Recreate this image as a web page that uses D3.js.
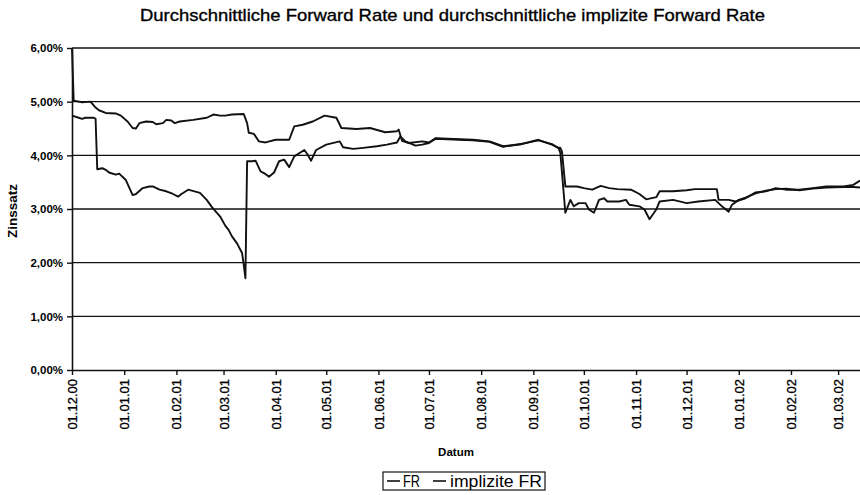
<!DOCTYPE html>
<html>
<head>
<meta charset="UTF-8" />
<title>Forward Rate</title>
<style>
    body { margin: 0; padding: 0; background: #fff; }
    svg { font-family: "Liberation Sans", Arial, sans-serif; }
    .grid line { stroke: #111; stroke-width: 1.4px; }
    .series { fill: none; stroke: #111; stroke-width: 1.9px; stroke-linejoin: round; }
</style>
</head>
<body>
<svg width="860" height="495"></svg>
<script src="https://cdn.jsdelivr.net/npm/d3@7/dist/d3.min.js"></script>
<script>
    // Durchschnittliche Forward Rate (in %)
    const frDates = ["01.12.00","02.12.00","07.12.00","12.12.00","15.12.00","17.12.00","21.12.00","27.12.00","30.12.00",
        "03.01.01","06.01.01","08.01.01","10.01.01","14.01.01","18.01.01","20.01.01","24.01.01","26.01.01","29.01.01","31.01.01",
        "03.02.01","11.02.01","19.02.01","23.02.01","27.02.01","02.03.01","06.03.01","13.03.01","15.03.01","16.03.01","19.03.01",
        "22.03.01","26.03.01","01.04.01","09.04.01","12.04.01","17.04.01","23.04.01","30.04.01","07.05.01","10.05.01","19.05.01",
        "27.05.01","05.06.01","12.06.01","13.06.01","15.06.01","19.06.01","27.06.01","01.07.01","05.07.01","19.07.01","27.07.01",
        "06.08.01","14.08.01","24.08.01","04.09.01","12.09.01","16.09.01","17.09.01","18.09.01","20.09.01","27.09.01","01.10.01",
        "06.10.01","11.10.01","16.10.01","21.10.01","29.10.01","03.11.01","07.11.01","13.11.01","15.11.01","23.11.01","01.12.01",
        "06.12.01","19.12.01","20.12.01","26.12.01","30.12.01","05.01.02","11.01.02","17.01.02","23.01.02","29.01.02","06.02.02",
        "14.02.02","22.02.02","04.03.02","10.03.02","14.03.02"];
    const frValues = [6.00,5.02,4.99,5.00,4.89,4.84,4.79,4.78,4.74,
        4.63,4.51,4.50,4.60,4.63,4.62,4.58,4.60,4.66,4.65,4.60,
        4.63,4.66,4.70,4.76,4.74,4.74,4.76,4.77,4.60,4.42,4.40,
        4.26,4.24,4.29,4.29,4.54,4.57,4.63,4.74,4.70,4.51,4.49,
        4.51,4.43,4.45,4.48,4.27,4.23,4.26,4.24,4.32,4.30,4.29,
        4.26,4.17,4.20,4.29,4.20,4.14,4.14,4.07,3.42,3.42,3.39,
        3.36,3.43,3.39,3.37,3.36,3.28,3.18,3.22,3.33,3.33,3.35,
        3.37,3.37,3.17,3.17,3.14,3.20,3.31,3.33,3.39,3.36,3.36,
        3.39,3.42,3.42,3.45,3.53];

    // Durchschnittliche implizite Forward Rate (in %)
    const ifrDates = ["01.12.00","05.12.00","07.12.00","09.12.00","14.12.00","15.12.00","16.12.00","19.12.00","21.12.00",
        "23.12.00","27.12.00","29.12.00","02.01.01","06.01.01","08.01.01","12.01.01","16.01.01","18.01.01","22.01.01","26.01.01",
        "30.01.01","02.02.01","04.02.01","08.02.01","15.02.01","19.02.01","22.02.01","27.02.01","02.03.01","04.03.01","06.03.01",
        "09.03.01","12.03.01","13.03.01","14.03.01","15.03.01","18.03.01","20.03.01","23.03.01","25.03.01","28.03.01","31.03.01",
        "03.04.01","06.04.01","09.04.01","12.04.01","18.04.01","20.04.01","22.04.01","25.04.01","01.05.01","09.05.01","11.05.01",
        "17.05.01","23.05.01","31.05.01","06.06.01","12.06.01","14.06.01","17.06.01","23.06.01","27.06.01","01.07.01","05.07.01",
        "19.07.01","27.07.01","06.08.01","14.08.01","24.08.01","04.09.01","12.09.01","16.09.01","17.09.01","20.09.01","23.09.01",
        "25.09.01","28.09.01","02.10.01","04.10.01","07.10.01","10.10.01","13.10.01","15.10.01","22.10.01","26.10.01","28.10.01",
        "03.11.01","06.11.01","09.11.01","13.11.01","15.11.01","23.11.01","01.12.01","08.12.01","18.12.01","22.12.01","26.12.01",
        "28.12.01","01.01.02","05.01.02","11.01.02","17.01.02","23.01.02","29.01.02","06.02.02","14.02.02","22.02.02","04.03.02",
        "10.03.02","14.03.02"];
    const ifrValues = [4.74,4.70,4.68,4.70,4.70,4.68,3.74,3.76,3.73,
        3.68,3.64,3.66,3.54,3.26,3.28,3.39,3.42,3.42,3.36,3.33,
        3.28,3.23,3.28,3.36,3.30,3.17,3.04,2.86,2.69,2.61,2.49,
        2.36,2.18,1.96,1.71,3.89,3.89,3.90,3.70,3.67,3.60,3.68,
        3.89,3.92,3.78,3.98,4.10,4.01,3.90,4.10,4.20,4.26,4.15,
        4.12,4.14,4.17,4.20,4.24,4.35,4.26,4.18,4.20,4.23,4.31,
        4.29,4.28,4.25,4.16,4.21,4.28,4.21,4.13,4.05,2.93,3.17,
        3.05,3.11,3.11,2.99,2.93,3.17,3.20,3.14,3.14,3.17,3.08,
        3.05,2.99,2.81,2.99,3.14,3.17,3.11,3.14,3.17,3.05,2.95,
        3.08,3.17,3.21,3.29,3.34,3.37,3.38,3.35,3.38,3.40,3.41,
        3.41,3.40];

    const yTicks = [0, 1, 2, 3, 4, 5, 6];
    const xTickLabels = ["01.12.00","01.01.01","01.02.01","01.03.01","01.04.01","01.05.01","01.06.01","01.07.01",
        "01.08.01","01.09.01","01.10.01","01.11.01","01.12.01","01.01.02","01.02.02","01.03.02"];
    const seriesNames = ["FR", "implizite FR"];

    const parse = d3.timeParse("%d.%m.%y");
    const fr = frDates.map((d, i) => ({ date: parse(d), value: frValues[i] }));
    const ifr = ifrDates.map((d, i) => ({ date: parse(d), value: ifrValues[i] }));

    const svg = d3.select("svg");
    const margin = { left: 72, right: 0, top: 48, bottom: 125 };
    const width = 860, height = 495;

    const x = d3.scaleTime()
        .domain([parse("01.12.00"), parse("14.03.02")])
        .range([margin.left, width - margin.right]);
    const y = d3.scaleLinear()
        .domain([0, 6])
        .range([height - margin.bottom, margin.top]);

    // title
    svg.append("text")
        .attr("x", 140).attr("y", 21)
        .attr("textLength", 625).attr("lengthAdjust", "spacingAndGlyphs")
        .style("font-size", "17px").style("fill", "#000")
        .style("stroke", "#000").style("stroke-width", 0.35)
        .text("Durchschnittliche Forward Rate und durchschnittliche implizite Forward Rate");

    // horizontal gridlines
    svg.append("g").attr("class", "grid")
        .selectAll("line").data(yTicks.filter(t => t > 0)).enter().append("line")
        .attr("x1", margin.left).attr("x2", width - margin.right)
        .attr("y1", d => y(d)).attr("y2", d => y(d));

    // y axis
    const fmt = d => d3.format(".2f")(d).replace(".", ",") + "%";
    const yAxis = svg.append("g")
        .attr("transform", `translate(${margin.left},0)`)
        .call(d3.axisLeft(y).tickValues(yTicks).tickFormat(fmt).tickSize(5).tickSizeOuter(0));
    yAxis.select(".domain").attr("stroke", "#111").attr("stroke-width", 1.6);
    yAxis.selectAll(".tick line").attr("stroke", "#111").attr("stroke-width", 1.4);
    yAxis.selectAll("text")
        .attr("x", -9)
        .style("font-size", "11.5px").style("font-weight", "bold").style("fill", "#000");

    // x axis
    const xAxis = svg.append("g")
        .attr("transform", `translate(0,${y(0)})`)
        .call(d3.axisBottom(x).tickValues(xTickLabels.map(parse))
            .tickFormat(d3.timeFormat("%d.%m.%y")).tickSize(5).tickSizeOuter(0));
    xAxis.select(".domain").attr("stroke", "#111").attr("stroke-width", 1.6);
    xAxis.selectAll(".tick line").attr("stroke", "#111").attr("stroke-width", 1.4);
    xAxis.selectAll("text")
        .attr("transform", "rotate(-90)")
        .attr("x", -9).attr("y", 0).attr("dy", "0.35em")
        .attr("text-anchor", "end")
        .style("font-size", "13px").style("fill", "#000")
        .style("stroke", "#000").style("stroke-width", 0.3);

    // axis titles
    svg.append("text")
        .attr("transform", `translate(17,${y(3) + 2}) rotate(-90)`)
        .attr("text-anchor", "middle")
        .style("font-size", "13.5px").style("font-weight", "bold")
        .text("Zinssatz");
    svg.append("text")
        .attr("x", 456).attr("y", 456)
        .attr("text-anchor", "middle")
        .style("font-size", "11.5px").style("font-weight", "bold")
        .text("Datum");

    // lines
    const line = d3.line().x(d => x(d.date)).y(d => y(d.value));
    svg.append("path").datum(fr).attr("class", "series").attr("d", line);
    svg.append("path").datum(ifr).attr("class", "series").attr("d", line);

    // legend
    const lg = svg.append("g");
    lg.append("rect")
        .attr("x", 383).attr("y", 472).attr("width", 162).attr("height", 18)
        .attr("fill", "#fff").attr("stroke", "#111").attr("stroke-width", 1.2);
    const items = [{ x1: 387, tx: 403, len: 17 }, { x1: 433, tx: 450, len: 92 }];
    items.forEach((it, i) => {
        lg.append("line")
            .attr("x1", it.x1).attr("x2", it.x1 + 13)
            .attr("y1", 481).attr("y2", 481)
            .attr("stroke", "#111").attr("stroke-width", 1.6);
        lg.append("text")
            .attr("x", it.tx).attr("y", 487)
            .attr("textLength", it.len).attr("lengthAdjust", "spacingAndGlyphs")
            .style("font-size", "16px").style("fill", "#000")
            .text(seriesNames[i]);
    });
</script>
</body>
</html>
